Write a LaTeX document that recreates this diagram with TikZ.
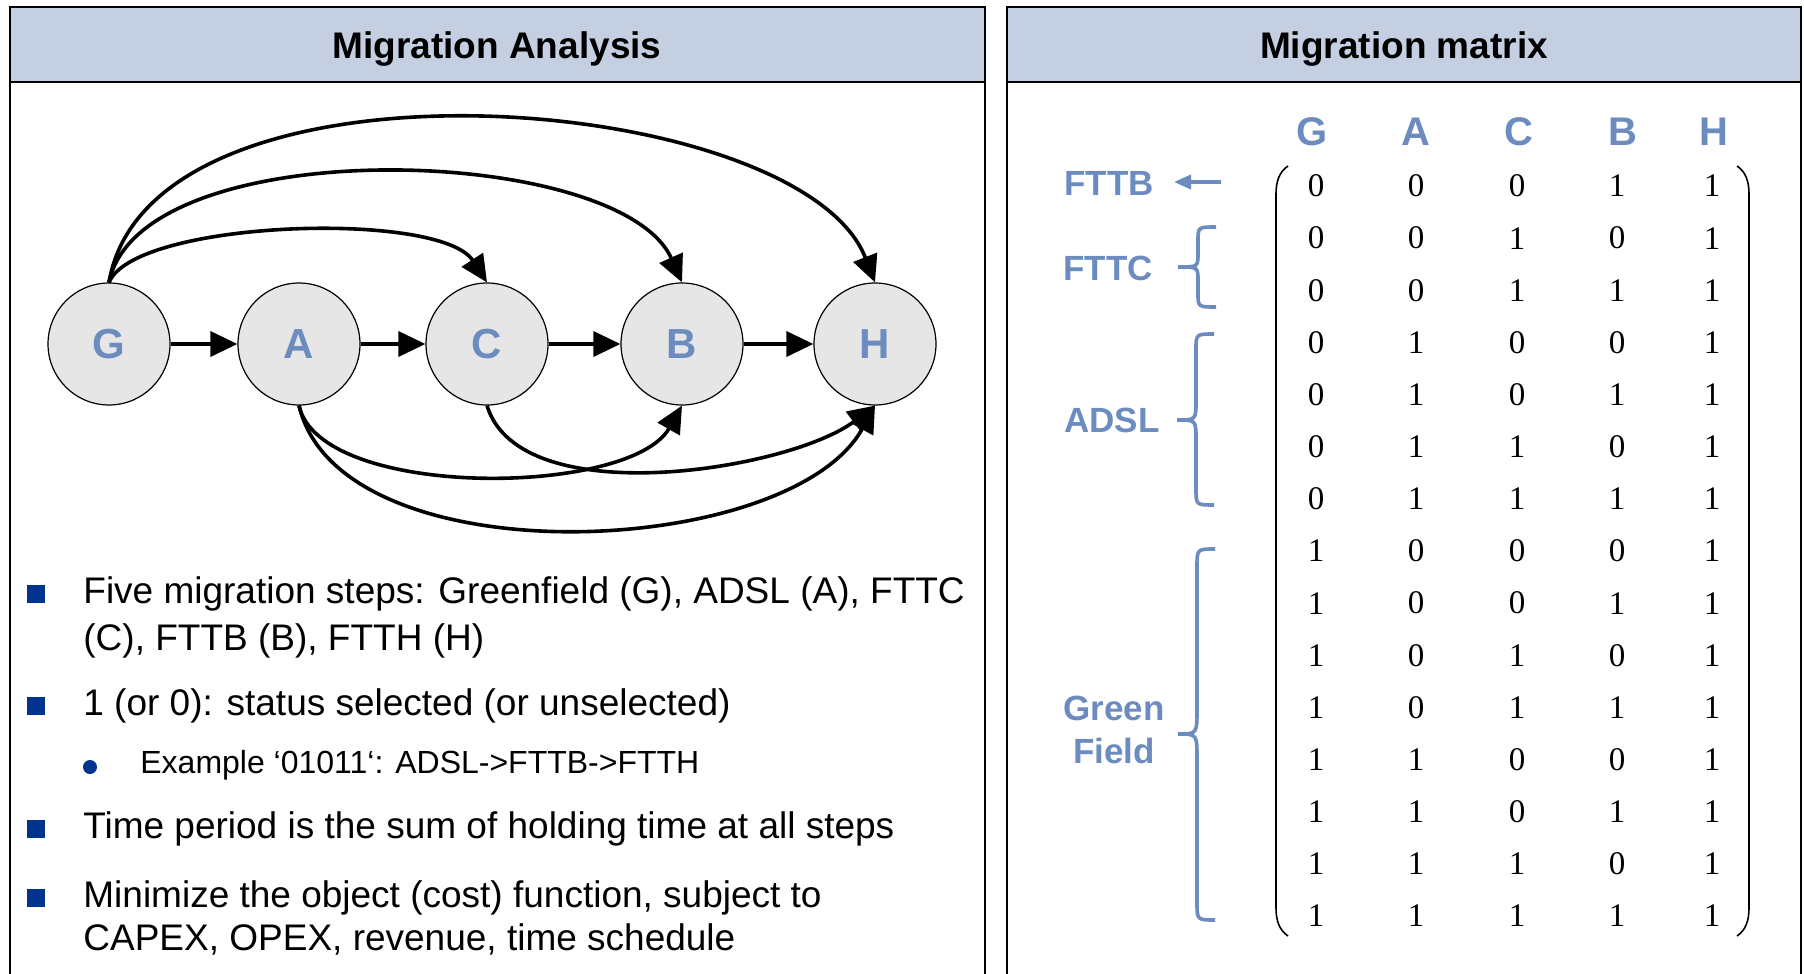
\documentclass[tikz,border=0pt]{standalone}
\usepackage{fontspec}
\setmainfont{Liberation Sans}
\newfontfamily\matrixfont{Liberation Serif}
\usetikzlibrary{arrows.meta}
\definecolor{hdrfill}{RGB}{196,207,225}
\definecolor{stepblue}{RGB}{108,140,191}
\definecolor{nodefill}{RGB}{230,230,230}
\definecolor{navy}{RGB}{0,51,141}
\begin{document}
\begin{tikzpicture}[x=0.5pt,y=-0.5pt,
  panel/.style={draw=black, line width=1pt},
  hdr/.style={draw=black, line width=1pt, fill=hdrfill},
  hdrtext/.style={anchor=base, inner sep=0pt, font=\bfseries\fontsize{18.5}{22}\selectfont},
  state/.style={circle, draw=black, line width=0.6pt, fill=nodefill, minimum size=61pt, inner sep=0pt, text=stepblue, font=\bfseries\fontsize{21}{25}\selectfont},
  flow/.style={-{Triangle[length=13.5pt,width=12.5pt]}, line width=1.8pt},
  bullettext/.style={anchor=base west, inner sep=0pt, font=\fontsize{18.5}{22}\selectfont},
  subtext/.style={anchor=base west, inner sep=0pt, font=\fontsize{16}{19}\selectfont},
  sqbullet/.style={fill=navy, draw=none},
  colhead/.style={text=stepblue, inner sep=0pt, font=\bfseries\fontsize{20}{24}\selectfont},
  rowlabel/.style={text=stepblue, inner sep=0pt, font=\bfseries\fontsize{17.5}{21.5}\selectfont, align=center},
  entry/.style={font=\matrixfont\fontsize{16.5}{19}\selectfont, inner sep=0pt},
  bracepath/.style={draw=stepblue, line width=1.8pt},
  labelarrow/.style={draw=stepblue, line width=1.8pt, -{Triangle[length=8.5pt,width=7pt]}},
  paren/.style={draw=black, line width=0.8pt},
]
\useasboundingbox (0,0) rectangle (1804,974);
% panels
\fill[white] (0,0) rectangle (1804,974);
\draw[hdr] (10,7) rectangle (985,82);
\draw[panel] (10,974) -- (10,82) (985,82) -- (985,974);
\draw[hdr] (1007,7) rectangle (1801,82);
\draw[panel] (1007,974) -- (1007,82) (1801,82) -- (1801,974);
\node[hdrtext] (hleft) at (497,59) {Migration Analysis};
\node[hdrtext] (hright) at (1404,59) {Migration matrix};

% graph
\node[state] (G) at (109,344) {G};
\node[state] (A) at (299,344) {A};
\node[state] (C) at (487,344) {C};
\node[state] (B) at (682,344) {B};
\node[state] (H) at (875,344) {H};
\draw[flow] (G) -- (A);
\draw[flow] (A) -- (C);
\draw[flow] (C) -- (B);
\draw[flow] (B) -- (H);
\draw[flow] (G.north) .. controls (135,220) and (440,210) .. (C.north);
\draw[flow] (G.north) .. controls (140,130) and (620,143) .. (B.north);
\draw[flow] (G.north) .. controls (150,39) and (800,90) .. (H.north);
\draw[flow] (A.south) .. controls (320,500) and (630,497) .. (B.south);
\draw[flow] (C.south) .. controls (520,514) and (790,470) .. (H.south);
\draw[flow] (A.south) .. controls (340,580) and (790,560) .. (H.south);

% bullets
\fill[sqbullet] (27,585) rectangle (45,603);
\node[bullettext] (b1a) at (83,603) {Five migration steps: Greenfield (G), ADSL (A), FTTC};
\node[bullettext] (b1b) at (83,650) {(C), FTTB (B), FTTH (H)};
\fill[sqbullet] (27,697) rectangle (45,715);
\node[bullettext] (b2) at (83,715) {1 (or 0): status selected (or unselected)};
\fill[navy] (90,767) circle (7);
\node[subtext] (b2s) at (140,773) {Example ‘01011‘: ADSL->FTTB->FTTH};
\fill[sqbullet] (27,820) rectangle (45,838);
\node[bullettext] (b3) at (83,838) {Time period is the sum of holding time at all steps};
\fill[sqbullet] (27,889) rectangle (45,907);
\node[bullettext] (b4a) at (83,907) {Minimize the object (cost) function, subject to};
\node[bullettext] (b4b) at (83,950) {CAPEX, OPEX, revenue, time schedule};

% matrix column headers
\node[colhead] (hG) at (1312,132) {G};
\node[colhead] (hA) at (1416,132) {A};
\node[colhead] (hC) at (1519,132) {C};
\node[colhead] (hB) at (1623,132) {B};
\node[colhead] (hH) at (1714,132) {H};

% matrix entries
\foreach \row [count=\i] in {{0,0,0,1,1},{0,0,1,0,1},{0,0,1,1,1},{0,1,0,0,1},{0,1,0,1,1},{0,1,1,0,1},{0,1,1,1,1},{1,0,0,0,1},{1,0,0,1,1},{1,0,1,0,1},{1,0,1,1,1},{1,1,0,0,1},{1,1,0,1,1},{1,1,1,0,1},{1,1,1,1,1}}{
  \foreach \v [count=\j] in \row {
    \pgfmathsetmacro\cx{{1316,1416,1517,1617,1712}[\j-1]}
    \pgfmathsetmacro\cy{186+52.14*(\i-1)}
    \node[entry] (m-\i-\j) at (\cx,\cy) {\v};
  }
}

% parentheses
\draw[paren] (1288,166) .. controls (1279,172) and (1276,182) .. (1276,194) -- (1276,908) .. controls (1276,920) and (1279,930) .. (1288,936);
\draw[paren] (1737,166) .. controls (1746,172) and (1749,182) .. (1749,194) -- (1749,908) .. controls (1749,920) and (1746,930) .. (1737,936);

% row labels
\node[rowlabel] (lFTTB) at (1109,183) {FTTB};
\coordinate (fttbtail) at (1221,182);
\coordinate (fttbtip) at (1174,182);
\draw[labelarrow] (fttbtail) -- (fttbtip);
\node[rowlabel] (lFTTC) at (1108,268) {FTTC};
\node[rowlabel] (lADSL) at (1112,420) {ADSL};
\node[rowlabel] (lGF) at (1114,730) {Green\\Field};

% braces
\draw[bracepath] (1216,227) .. controls (1198,227) .. (1198,241) -- (1198,253) .. controls (1198,267) .. (1178,267) .. controls (1198,267) .. (1198,281) -- (1198,293) .. controls (1198,307) .. (1216,307);
\draw[bracepath] (1214,334) .. controls (1196,334) .. (1196,350) -- (1196,400) .. controls (1196,420) .. (1177,420) .. controls (1196,420) .. (1196,440) -- (1196,489) .. controls (1196,505) .. (1214,505);
\draw[bracepath] (1215,549) .. controls (1197,549) .. (1197,567) -- (1197,709) .. controls (1197,734) .. (1178,734) .. controls (1197,734) .. (1197,759) -- (1197,902) .. controls (1197,920) .. (1215,920);
\end{tikzpicture}
\end{document}
